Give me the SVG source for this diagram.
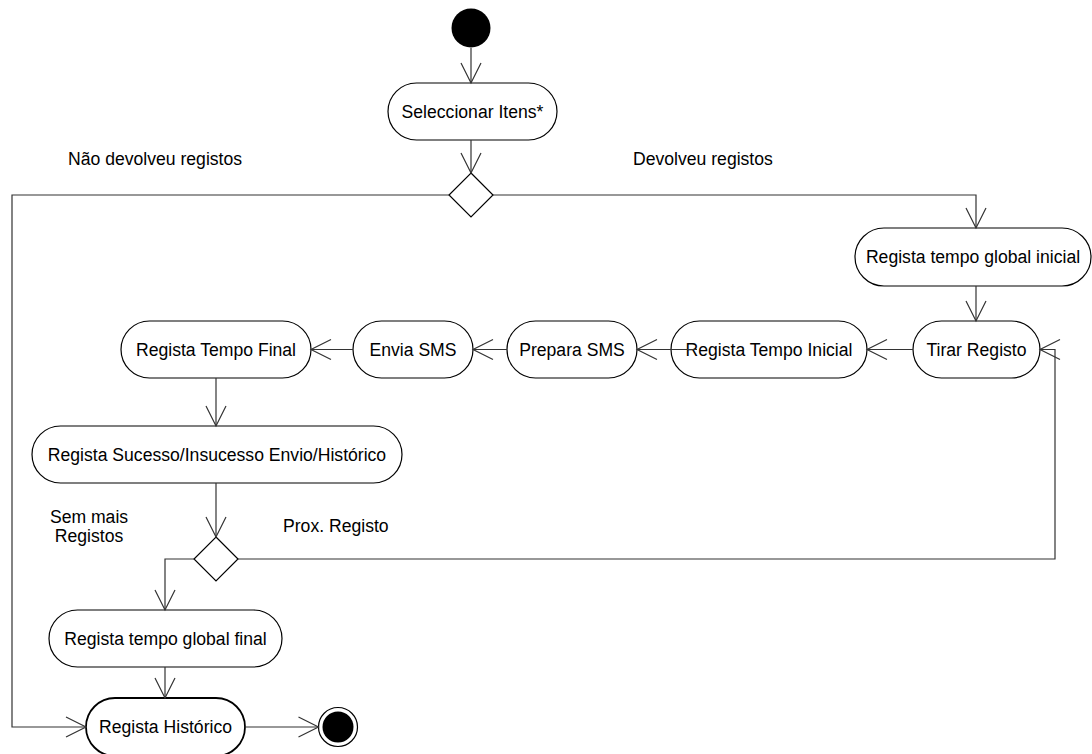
<svg xmlns="http://www.w3.org/2000/svg" width="1092" height="754" viewBox="0 0 1092 754">
<style>
.node rect{fill:#fff;stroke:#000;stroke-width:1.2}
.node text{font-family:"Liberation Sans",Arial,sans-serif;font-size:17.6px;fill:#000;text-anchor:middle}
.lbl{font-family:"Liberation Sans",Arial,sans-serif;font-size:17.6px;fill:#000}
.conn path{fill:none;stroke:#333;stroke-width:1.2}
.dec polygon{fill:#fff;stroke:#000;stroke-width:1.2}
</style>
<defs>
<marker id="arr" markerUnits="userSpaceOnUse" markerWidth="24" markerHeight="24" viewBox="-22 -12 24 24" refX="0" refY="0" orient="auto">
<path d="M-20,-10 L0,0 L-20,10" fill="none" stroke="#333" stroke-width="1.2"/>
</marker>
</defs>
<rect width="1092" height="754" fill="#fff"/>
<g id="start"><circle cx="471" cy="28" r="19.5" fill="#000"/></g>
<g id="n_seleccionar" class="node"><rect x="388" y="83" width="169" height="57" rx="28.5"/><text x="472.5" y="117.5">Seleccionar Itens*</text></g>
<g id="d1" class="dec"><polygon points="471,173 493,195 471,217 449,195"/></g>
<g id="n_global_inicial" class="node"><rect x="855" y="228" width="236" height="58" rx="29"/><text x="973" y="263">Regista tempo global inicial</text></g>
<g id="n_tirar" class="node"><rect x="913" y="321" width="127" height="57" rx="28.5"/><text x="976.5" y="355.5">Tirar Registo</text></g>
<g id="n_tempo_inicial" class="node"><rect x="671" y="321" width="196" height="57" rx="28.5"/><text x="769" y="355.5">Regista Tempo Inicial</text></g>
<g id="n_prepara" class="node"><rect x="507" y="321" width="130" height="57" rx="28.5"/><text x="572" y="355.5">Prepara SMS</text></g>
<g id="n_envia" class="node"><rect x="353" y="321" width="120" height="57" rx="28.5"/><text x="413" y="355.5">Envia SMS</text></g>
<g id="n_tempo_final" class="node"><rect x="121" y="321" width="190" height="57" rx="28.5"/><text x="216" y="355.5">Regista Tempo Final</text></g>
<g id="n_sucesso" class="node"><rect x="32" y="426" width="370" height="57" rx="28.5"/><text x="217" y="460.5">Regista Sucesso/Insucesso Envio/Histórico</text></g>
<g id="d2" class="dec"><polygon points="216,537 238,559 216,581 194,559"/></g>
<g id="n_global_final" class="node"><rect x="49" y="610" width="233" height="57" rx="28.5"/><text x="165.5" y="644.5">Regista tempo global final</text></g>
<g id="n_historico" class="node"><rect x="86" y="698" width="159" height="58" rx="29" style="stroke-width:1.8"/><text x="165.5" y="733">Regista Histórico</text></g>
<g id="end"><circle cx="338" cy="727" r="19.5" fill="#fff" stroke="#000" stroke-width="1.2"/><circle cx="338" cy="727" r="15.5" fill="#000"/></g>
<g id="connectors" class="conn">
<path d="M471,48 V83" marker-end="url(#arr)"/>
<path d="M471,140 V173" marker-end="url(#arr)"/>
<path d="M493,195 H976 V228" marker-end="url(#arr)"/>
<path d="M449,195 H12 V727 H86" marker-end="url(#arr)"/>
<path d="M976,286 V321" marker-end="url(#arr)"/>
<path d="M913,349.5 H867" marker-end="url(#arr)"/>
<path d="M697,349.5 H637" marker-end="url(#arr)"/>
<path d="M507,349.5 H473" marker-end="url(#arr)"/>
<path d="M353,349.5 H311" marker-end="url(#arr)"/>
<path d="M216,378 V426" marker-end="url(#arr)"/>
<path d="M216,483 V537" marker-end="url(#arr)"/>
<path d="M238,559 H1055 V349.5 H1040" marker-end="url(#arr)"/>
<path d="M194,559 H165 V610" marker-end="url(#arr)"/>
<path d="M165,667 V698" marker-end="url(#arr)"/>
<path d="M245,727 H318.5" marker-end="url(#arr)"/>
</g>
<g id="labels">
<text class="lbl" x="68" y="165">Não devolveu registos</text>
<text class="lbl" x="633" y="165">Devolveu registos</text>
<text class="lbl" x="89" y="523" text-anchor="middle">Sem mais</text>
<text class="lbl" x="89" y="542" text-anchor="middle">Registos</text>
<text class="lbl" x="283" y="532">Prox. Registo</text>
</g>
</svg>
